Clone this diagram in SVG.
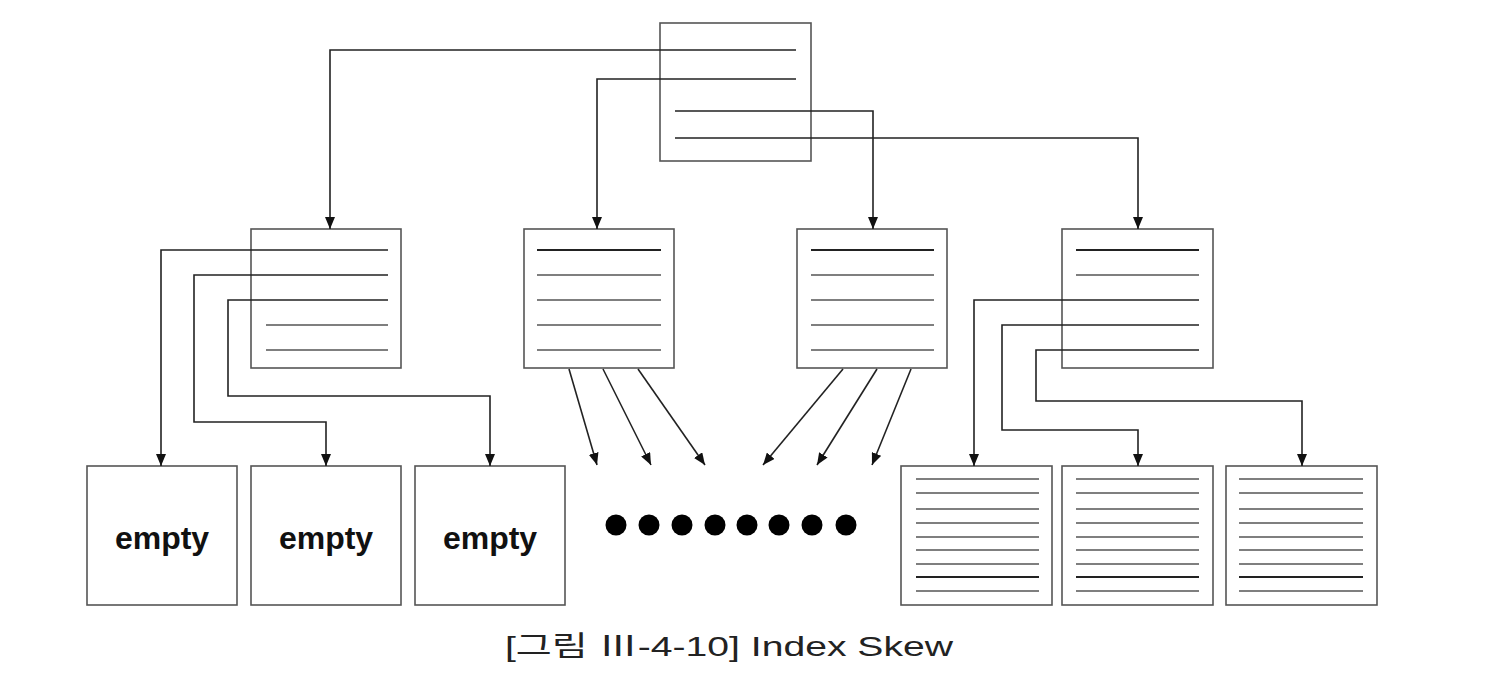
<svg xmlns="http://www.w3.org/2000/svg" width="1492" height="694" viewBox="0 0 1492 694">
<defs>
<marker id="ah" markerUnits="userSpaceOnUse" markerWidth="12" markerHeight="10" refX="12" refY="5" orient="auto">
<path d="M0,0 L12,5 L0,10 z" fill="#111"/>
</marker>
<style>
.box{fill:#fff;stroke:#555;stroke-width:1.6}
.ln{stroke:#555;stroke-width:1.6;fill:none}
.lk{stroke:#222;stroke-width:2;fill:none}
.cn{stroke:#222;stroke-width:1.6;fill:none;marker-end:url(#ah)}
.dot{fill:#000}
.empty{font-family:"Liberation Sans",Arial,sans-serif;font-weight:bold;font-size:32px;fill:#111;text-anchor:middle}
.cap{font-family:"Liberation Sans","Noto Sans CJK KR",sans-serif;font-size:28px;fill:#222}
</style>
</defs>
<rect width="1492" height="694" fill="#fff"/>

<g id="root">
<rect class="box" x="660" y="23" width="151" height="138"/>
</g>

<g id="n1">
<rect class="box" x="251" y="229" width="150" height="139"/>
<line class="ln" x1="266" y1="325" x2="388" y2="325"/>
<line class="ln" x1="266" y1="350" x2="388" y2="350"/>
</g>
<g id="n2">
<rect class="box" x="524" y="229" width="150" height="139"/>
<line class="lk" x1="537" y1="250" x2="661" y2="250"/>
<line class="ln" x1="537" y1="275" x2="661" y2="275"/>
<line class="ln" x1="537" y1="300" x2="661" y2="300"/>
<line class="ln" x1="537" y1="325" x2="661" y2="325"/>
<line class="ln" x1="537" y1="350" x2="661" y2="350"/>
</g>
<g id="n3">
<rect class="box" x="797" y="229" width="150" height="139"/>
<line class="lk" x1="811" y1="250" x2="934" y2="250"/>
<line class="ln" x1="811" y1="275" x2="934" y2="275"/>
<line class="ln" x1="811" y1="300" x2="934" y2="300"/>
<line class="ln" x1="811" y1="325" x2="934" y2="325"/>
<line class="ln" x1="811" y1="350" x2="934" y2="350"/>
</g>
<g id="n4">
<rect class="box" x="1062" y="229" width="151" height="139"/>
<line class="lk" x1="1076" y1="250" x2="1199" y2="250"/>
<line class="ln" x1="1076" y1="275" x2="1199" y2="275"/>
</g>

<g id="e1">
<rect class="box" x="87" y="466" width="150" height="139"/>
<text class="empty" x="162" y="549">empty</text>
</g>
<g id="e2">
<rect class="box" x="251" y="466" width="150" height="139"/>
<text class="empty" x="326" y="549">empty</text>
</g>
<g id="e3">
<rect class="box" x="415" y="466" width="150" height="139"/>
<text class="empty" x="490" y="549">empty</text>
</g>

<g id="l1">
<rect class="box" x="901" y="466" width="151" height="139"/>
<g transform="translate(916,0)">
<line class="ln" x1="0" y1="479" x2="123" y2="479"/>
<line class="ln" x1="0" y1="493" x2="123" y2="493"/>
<line class="ln" x1="0" y1="509" x2="123" y2="509"/>
<line class="ln" x1="0" y1="523" x2="123" y2="523"/>
<line class="ln" x1="0" y1="537" x2="123" y2="537"/>
<line class="ln" x1="0" y1="550" x2="123" y2="550"/>
<line class="ln" x1="0" y1="564" x2="123" y2="564"/>
<line class="lk" x1="0" y1="577" x2="123" y2="577"/>
<line class="ln" x1="0" y1="591" x2="123" y2="591"/>
</g>
</g>
<g id="l2">
<rect class="box" x="1062" y="466" width="151" height="139"/>
<g transform="translate(1076,0)">
<line class="ln" x1="0" y1="479" x2="123" y2="479"/>
<line class="ln" x1="0" y1="493" x2="123" y2="493"/>
<line class="ln" x1="0" y1="509" x2="123" y2="509"/>
<line class="ln" x1="0" y1="523" x2="123" y2="523"/>
<line class="ln" x1="0" y1="537" x2="123" y2="537"/>
<line class="ln" x1="0" y1="550" x2="123" y2="550"/>
<line class="ln" x1="0" y1="564" x2="123" y2="564"/>
<line class="lk" x1="0" y1="577" x2="123" y2="577"/>
<line class="ln" x1="0" y1="591" x2="123" y2="591"/>
</g>
</g>
<g id="l3">
<rect class="box" x="1226" y="466" width="151" height="139"/>
<g transform="translate(1239,0)">
<line class="ln" x1="0" y1="479" x2="124" y2="479"/>
<line class="ln" x1="0" y1="493" x2="124" y2="493"/>
<line class="ln" x1="0" y1="509" x2="124" y2="509"/>
<line class="ln" x1="0" y1="523" x2="124" y2="523"/>
<line class="ln" x1="0" y1="537" x2="124" y2="537"/>
<line class="ln" x1="0" y1="550" x2="124" y2="550"/>
<line class="ln" x1="0" y1="564" x2="124" y2="564"/>
<line class="lk" x1="0" y1="577" x2="124" y2="577"/>
<line class="ln" x1="0" y1="591" x2="124" y2="591"/>
</g>
</g>

<g id="connectors">
<polyline class="cn" points="796,50 330,50 330,229"/>
<polyline class="cn" points="796,79 597,79 597,229"/>
<polyline class="cn" points="675,111 873,111 873,229"/>
<polyline class="cn" points="675,138 1138,138 1138,229"/>

<polyline class="cn" points="388,250 161,250 161,466"/>
<polyline class="cn" points="388,275 194,275 194,422 326,422 326,466"/>
<polyline class="cn" points="388,300 228,300 228,396 490,396 490,466"/>

<polyline class="cn" points="1199,300 974,300 974,466"/>
<polyline class="cn" points="1199,325 1002,325 1002,430 1138,430 1138,466"/>
<polyline class="cn" points="1199,350 1036,350 1036,401 1302,401 1302,466"/>

<line class="cn" x1="569" y1="369" x2="597" y2="465"/>
<line class="cn" x1="603" y1="369" x2="651" y2="465"/>
<line class="cn" x1="638" y1="369" x2="705" y2="465"/>
<line class="cn" x1="843" y1="369" x2="763" y2="465"/>
<line class="cn" x1="877" y1="369" x2="817" y2="465"/>
<line class="cn" x1="911" y1="369" x2="872" y2="465"/>
</g>

<g id="dots">
<circle class="dot" cx="616" cy="525" r="10.5"/>
<circle class="dot" cx="649" cy="525" r="10.5"/>
<circle class="dot" cx="682" cy="525" r="10.5"/>
<circle class="dot" cx="715" cy="525" r="10.5"/>
<circle class="dot" cx="747" cy="525" r="10.5"/>
<circle class="dot" cx="779" cy="525" r="10.5"/>
<circle class="dot" cx="812" cy="525" r="10.5"/>
<circle class="dot" cx="846" cy="525" r="10.5"/>
</g>

<text class="cap" x="505" y="656" textLength="448" lengthAdjust="spacingAndGlyphs">[그림 Ⅲ-4-10] Index Skew</text>
</svg>
